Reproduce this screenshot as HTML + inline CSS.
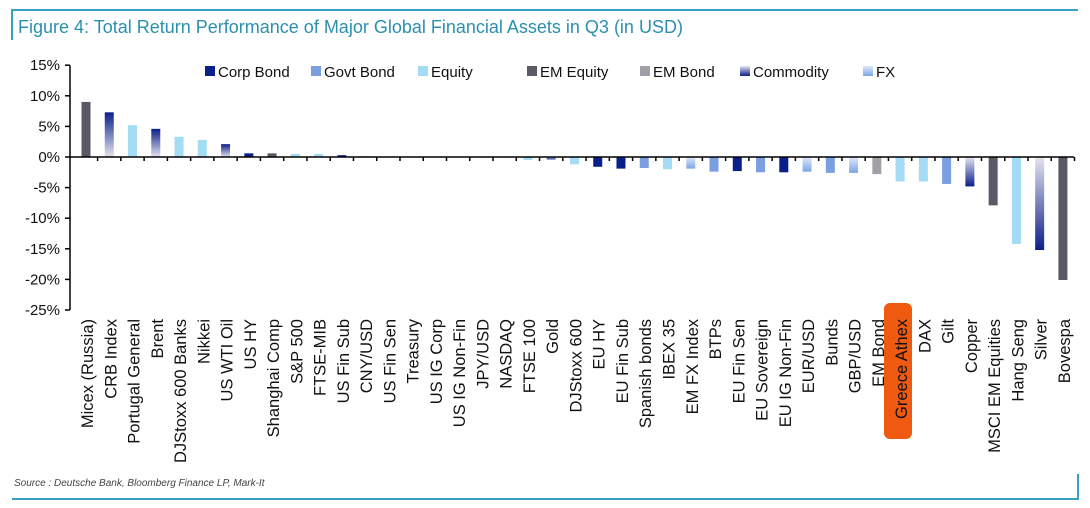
<!DOCTYPE html>
<html><head><meta charset="utf-8"><style>
body{margin:0;background:#fff;width:1090px;height:508px;overflow:hidden;font-family:"Liberation Sans",sans-serif}
svg{display:block}
</style></head><body>
<svg width="1090" height="508" id="svg">
<defs>
<linearGradient id="commPos" x1="0" y1="0" x2="0" y2="1"><stop offset="0" stop-color="#0b1f88"/><stop offset="1" stop-color="#e4e4f0"/></linearGradient>
<linearGradient id="commNeg" x1="0" y1="0" x2="0" y2="1"><stop offset="0" stop-color="#e4e4f0"/><stop offset="1" stop-color="#0b1f88"/></linearGradient>
<linearGradient id="fxPos" x1="0" y1="0" x2="0" y2="1"><stop offset="0" stop-color="#7aa6e8"/><stop offset="1" stop-color="#dfe8f8"/></linearGradient>
<linearGradient id="fxNeg" x1="0" y1="0" x2="0" y2="1"><stop offset="0" stop-color="#dfe8f8"/><stop offset="1" stop-color="#7aa6e8"/></linearGradient>
</defs>
<path d="M12 40 V10 H1078" fill="none" stroke="#3aa0c0" stroke-width="2"/>
<path d="M12 499 H1078 V474" fill="none" stroke="#3aa0c0" stroke-width="2"/>
<text x="18" y="33" font-size="18" fill="#2b8fb0">Figure 4: Total Return Performance of Major Global Financial Assets in Q3 (in USD)</text>
<text x="14" y="486" font-size="10" font-style="italic" fill="#444">Source : Deutsche Bank, Bloomberg Finance LP, Mark-It</text>
<rect x="884" y="303" width="28" height="136" rx="6" fill="#f05a10"/>
<g id="legend"></g>
<g id="plot"></g>
</svg>
<script>
const categories=["Micex (Russia)","CRB Index","Portugal General","Brent","DJStoxx 600 Banks","Nikkei","US WTI Oil","US HY","Shanghai Comp","S&P 500","FTSE-MIB","US Fin Sub","CNY/USD","US Fin Sen","Treasury","US IG Corp","US IG Non-Fin","JPY/USD","NASDAQ","FTSE 100","Gold","DJStoxx 600","EU HY","EU Fin Sub","Spanish bonds","IBEX 35","EM FX Index","BTPs","EU Fin Sen","EU Sovereign","EU IG Non-Fin","EUR/USD","Bunds","GBP/USD","EM Bond","Greece Athex","DAX","Gilt","Copper","MSCI EM Equities","Hang Seng","Silver","Bovespa"];
const values=[9.0,7.3,5.2,4.6,3.3,2.8,2.1,0.6,0.6,0.5,0.5,0.3,0.15,0.05,0.05,0.05,0.05,0,0,-0.5,-0.4,-1.2,-1.6,-1.9,-1.8,-2.0,-1.9,-2.4,-2.3,-2.5,-2.5,-2.4,-2.6,-2.6,-2.8,-4.0,-4.0,-4.4,-4.8,-7.9,-14.2,-15.2,-20.1];
const types=["eme","comm","eq","comm","eq","eq","comm","corp","eme","eq","eq","corp","fx","corp","govt","corp","corp","fx","eq","eq","comm","eq","corp","corp","govt","eq","fx","govt","corp","govt","corp","fx","govt","fx","emb","eq","eq","govt","comm","eme","eq","comm","eme"];
const yTicks=[15,10,5,0,-5,-10,-15,-20,-25];
const legendLabels=["Corp Bond","Govt Bond","Equity","EM Equity","EM Bond","Commodity","FX"];
const legendTypes=["corp","govt","eq","eme","emb","comm","fx"];
const NS="http://www.w3.org/2000/svg";
const yScale=v=>157-v*6.12;
const xScale=i=>86+i*23.26;
function fill(t,v){return {corp:"#0a1f8a",govt:"#7b9ee0",eq:"#a4dcf4",eme:"#5a5a66",emb:"#a0a0a8",comm:v>=0?"url(#commPos)":"url(#commNeg)",fx:v>=0?"url(#fxPos)":"url(#fxNeg)"}[t];}
function mk(tag,attrs,parent){const e=document.createElementNS(NS,tag);for(const k in attrs)e.setAttribute(k,attrs[k]);parent.appendChild(e);return e;}
const plot=document.getElementById('plot');
yTicks.forEach(t=>{
 const y=yScale(t);
 const l=mk('line',{x1:65,x2:70,y1:y,y2:y,stroke:'#000','stroke-width':1.5},plot);
 
 
 const tx=mk('text',{x:60,y:y+5,'font-size':15,'text-anchor':'end',fill:'#111'},plot);
 tx.textContent=t+'%';
 
 
});
const ya=mk('line',{x1:70,x2:70,y1:yScale(15),y2:yScale(-25),stroke:'#000','stroke-width':1.5},plot);


categories.forEach((c,i)=>{
 const v=values[i],x=xScale(i),y0=yScale(0),y1=yScale(v);
 const r=mk('rect',{x:x-4.5,y:Math.min(y0,y1),width:9,height:Math.max(Math.abs(y1-y0),0.6),fill:fill(types[i],v)},plot);
 
 
 const tk=mk('line',{x1:x+11.6,x2:x+11.6,y1:157,y2:161,stroke:'#000','stroke-width':1.5},plot);
 
 
 const tx=mk('text',{transform:`translate(${x+7},319) rotate(-90)`,'font-size':16.5,'text-anchor':'end',fill:'#111'},plot);
 tx.textContent=c;
 
 
});
const xa=mk('line',{x1:70,x2:1074,y1:157,y2:157,stroke:'#000','stroke-width':1.5},plot);


const lg=document.getElementById('legend');
const lx=[205,311,418,527,640,740,863];
legendLabels.forEach((l,i)=>{
 const s=mk('rect',{x:lx[i],y:66,width:10,height:10,fill:fill(legendTypes[i],-1)},lg);
 
 
 const t=mk('text',{x:lx[i]+13,y:77,'font-size':15,fill:'#111'},lg);
 t.textContent=l;
 
 
});
</script>
</body></html>
